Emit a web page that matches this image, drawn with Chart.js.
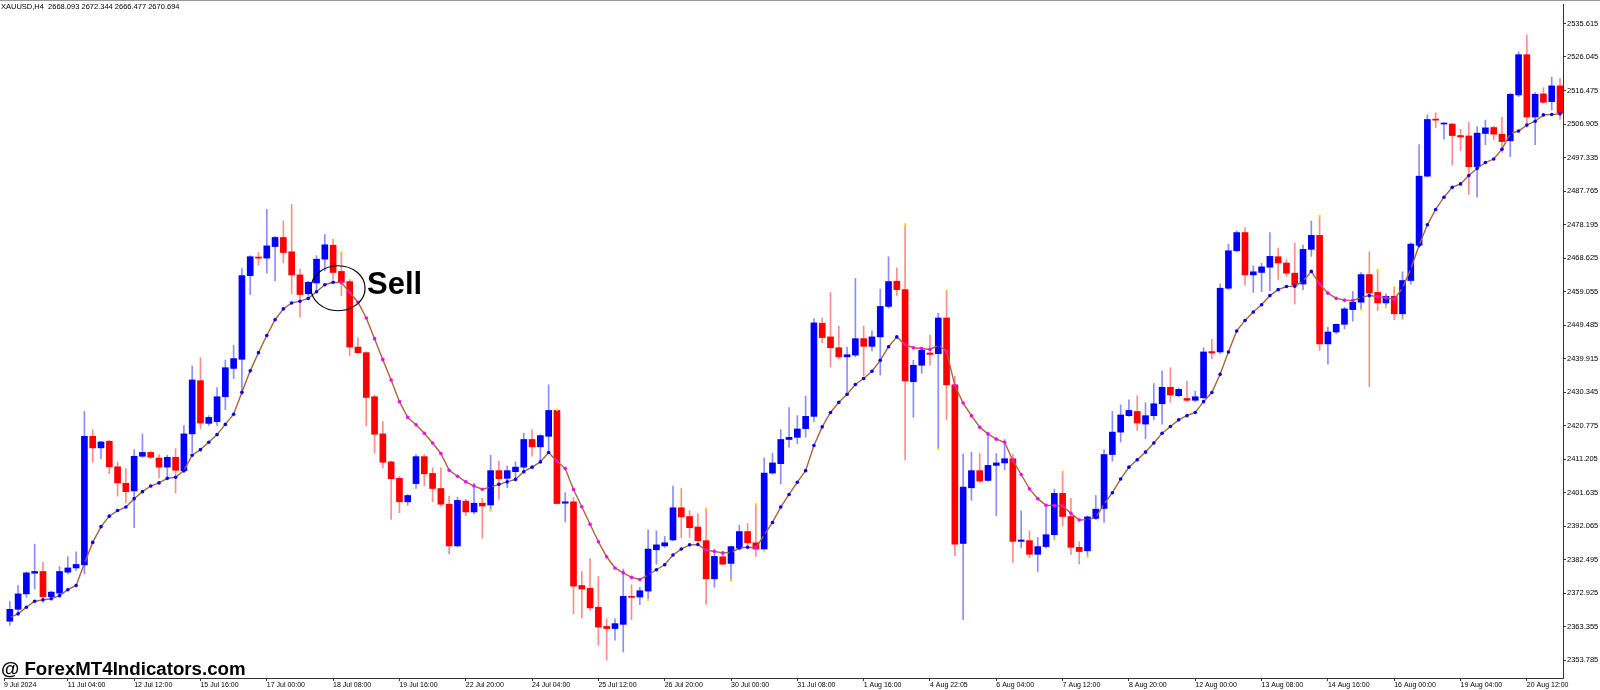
<!DOCTYPE html>
<html><head><meta charset="utf-8">
<script src="https://cdn.jsdelivr.net/npm/chart.js@4.4.1/dist/chart.umd.min.js"></script>
<style>html,body{margin:0;padding:0;background:#fff;overflow:hidden}#c{display:block}</style>
</head><body>
<canvas id="c" width="1600" height="690"></canvas>
<script>
const opens=[2364.9,2368.3,2372.7,2378.6,2379.1,2371.9,2372.9,2378.9,2380.1,2381.0,
2417.7,2414.4,2416.3,2409.0,2404.3,2402.1,2412.0,2413.1,2411.5,2408.9,
2411.7,2407.9,2418.4,2433.6,2421.4,2421.9,2429.0,2437.1,2439.7,2463.6,
2468.9,2468.6,2471.9,2474.5,2470.4,2463.8,2458.4,2461.5,2468.3,2472.3,
2464.8,2461.9,2443.2,2441.6,2429.0,2418.4,2410.4,2405.7,2399.0,2404.2,
2411.9,2407.1,2402.8,2398.3,2386.4,2399.2,2396.1,2398.6,2398.1,2407.9,
2405.7,2407.6,2408.9,2416.8,2414.7,2417.7,2425.1,2398.6,2399.0,2375.1,
2374.3,2368.9,2363.4,2362.8,2364.0,2372.0,2371.8,2373.5,2385.3,2386.4,
2388.1,2397.3,2394.8,2391.8,2387.9,2377.0,2383.3,2381.4,2385.8,2390.5,
2387.3,2385.5,2407.2,2409.9,2416.8,2417.4,2419.9,2423.4,2450.0,2446.1,
2443.0,2440.4,2440.9,2445.6,2443.4,2446.1,2454.8,2462.0,2459.6,2433.3,
2438.0,2441.5,2441.3,2451.5,2432.4,2387.1,2403.0,2407.9,2405.1,2409.4,
2410.1,2411.3,2387.7,2387.9,2384.0,2386.2,2389.6,2401.4,2394.8,2386.0,
2385.0,2394.3,2397.1,2412.5,2418.9,2423.6,2424.8,2421.2,2423.6,2427.0,
2431.7,2429.3,2428.5,2428.0,2428.7,2441.9,2441.8,2460.0,2470.7,2475.9,
2463.8,2464.5,2466.0,2469.0,2467.2,2464.3,2461.2,2471.1,2475.1,2444.1,
2447.5,2449.7,2453.9,2456.0,2463.9,2458.8,2455.8,2457.7,2452.7,2462.2,
2472.3,2492.0,2508.3,2506.9,2506.9,2503.6,2503.5,2494.7,2504.2,2505.9,
2504.0,2502.1,2515.2,2526.7,2508.9,2515.5,2513.3,2517.8];
const highs=[2370.5,2375.1,2379.0,2386.9,2381.7,2373.5,2380.5,2383.3,2384.7,2424.8,
2419.6,2416.3,2416.5,2410.4,2408.5,2413.9,2418.4,2413.4,2412.5,2412.3,
2414.2,2420.8,2437.8,2440.2,2423.6,2431.6,2439.5,2443.7,2465.6,2469.3,
2470.2,2482.5,2474.8,2479.2,2483.9,2465.5,2462.0,2469.3,2475.4,2474.0,
2470.2,2462.5,2445.9,2441.8,2429.5,2421.9,2410.6,2406.3,2401.1,2412.5,
2412.5,2408.7,2408.7,2400.6,2400.3,2399.7,2404.3,2400.0,2412.3,2410.6,
2409.2,2410.4,2418.6,2419.6,2418.2,2432.4,2425.3,2401.6,2400.2,2379.1,
2382.8,2377.7,2365.6,2365.6,2379.8,2375.3,2374.6,2391.0,2390.7,2389.1,
2403.5,2402.8,2396.5,2395.6,2397.1,2385.5,2384.5,2386.4,2392.3,2392.8,
2398.3,2411.5,2412.9,2419.6,2425.9,2423.6,2429.2,2451.3,2451.5,2458.8,
2449.2,2443.2,2462.8,2449.2,2447.8,2459.8,2469.0,2465.8,2478.2,2439.4,
2443.2,2446.7,2452.9,2459.3,2434.9,2412.6,2413.2,2412.8,2418.3,2412.8,
2416.8,2412.6,2396.4,2390.7,2388.8,2397.8,2402.6,2407.6,2400.0,2387.6,
2395.0,2400.8,2413.9,2424.8,2426.7,2428.1,2429.3,2427.3,2432.8,2436.3,
2437.3,2431.5,2433.5,2430.6,2443.0,2445.4,2461.2,2472.6,2476.4,2477.3,
2466.4,2467.1,2475.9,2471.5,2468.2,2472.9,2472.3,2479.2,2480.6,2448.9,
2449.8,2454.6,2459.1,2464.5,2470.4,2465.1,2458.4,2460.3,2464.7,2473.0,
2501.0,2509.5,2510.1,2507.3,2507.1,2505.4,2507.4,2506.2,2508.0,2506.2,
2508.8,2515.6,2527.5,2532.3,2515.9,2517.3,2520.3,2519.9];
const lows=[2363.7,2367.1,2371.7,2374.1,2370.3,2371.4,2371.8,2378.4,2379.3,2378.4,
2410.3,2411.3,2407.0,2400.6,2398.7,2391.6,2411.7,2411.4,2405.8,2405.6,
2401.5,2407.3,2413.1,2419.8,2420.8,2420.8,2425.3,2434.2,2429.5,2458.2,
2466.6,2464.3,2462.1,2467.2,2458.4,2451.7,2457.9,2458.8,2465.0,2462.5,
2457.9,2440.7,2441.3,2420.7,2412.9,2408.7,2394.0,2395.9,2398.0,2402.8,
2403.5,2399.0,2397.8,2384.1,2386.1,2395.0,2395.6,2388.6,2396.5,2399.7,
2403.0,2405.3,2407.3,2412.0,2411.0,2412.9,2398.4,2393.3,2367.0,2365.8,
2368.0,2358.0,2353.8,2359.5,2356.1,2365.3,2369.6,2371.0,2381.2,2386.0,
2387.9,2388.8,2388.8,2386.9,2369.7,2374.6,2381.0,2376.5,2385.5,2386.0,
2383.4,2385.0,2406.9,2404.1,2414.6,2415.6,2417.5,2421.9,2444.4,2437.5,
2439.9,2430.4,2440.4,2435.0,2442.1,2435.2,2454.3,2457.9,2411.0,2423.1,
2435.7,2438.0,2414.1,2422.4,2383.6,2365.3,2399.4,2404.6,2404.9,2395.0,
2408.2,2381.7,2385.8,2383.0,2379.1,2385.8,2388.3,2392.1,2383.9,2381.2,
2383.3,2394.0,2393.1,2410.6,2416.1,2423.4,2419.4,2417.0,2422.4,2421.2,
2427.4,2429.0,2427.6,2427.6,2428.5,2439.9,2441.3,2459.6,2470.4,2460.9,
2458.8,2459.0,2459.3,2462.5,2463.4,2455.5,2459.6,2469.1,2442.2,2438.3,
2447.0,2448.4,2450.6,2453.9,2431.9,2453.6,2454.6,2451.0,2451.3,2461.2,
2471.6,2491.8,2505.8,2502.6,2495.1,2499.3,2486.8,2486.0,2501.0,2502.4,
2498.8,2497.6,2514.7,2506.0,2501.0,2512.8,2510.9,2508.3];
const closes=[2368.3,2372.7,2378.7,2379.1,2371.9,2373.2,2379.1,2380.1,2381.1,2417.7,
2414.4,2416.1,2409.0,2404.4,2401.9,2412.0,2413.1,2411.7,2408.9,2411.7,
2408.0,2418.4,2433.8,2421.5,2423.1,2429.0,2437.3,2439.9,2463.6,2469.0,
2468.6,2472.1,2474.5,2470.2,2463.8,2458.2,2461.7,2468.3,2472.4,2464.5,
2461.7,2443.2,2441.6,2428.8,2418.3,2410.3,2405.6,2399.0,2400.8,2411.9,
2407.0,2402.8,2398.3,2386.4,2399.4,2396.1,2398.6,2397.8,2407.9,2405.6,
2407.9,2408.9,2416.8,2414.7,2417.9,2425.1,2398.5,2399.0,2374.9,2374.1,
2368.7,2363.2,2362.8,2364.2,2372.0,2371.7,2373.6,2385.5,2386.7,2387.3,
2397.3,2394.7,2391.6,2387.9,2377.0,2383.4,2381.2,2386.2,2390.5,2387.3,
2385.5,2407.2,2410.1,2416.8,2417.4,2419.8,2423.4,2450.1,2445.9,2443.0,
2440.4,2441.0,2445.6,2443.4,2446.1,2454.8,2461.9,2459.6,2433.5,2438.0,
2442.3,2441.1,2451.5,2432.4,2386.9,2403.2,2407.9,2404.9,2409.4,2410.1,
2411.3,2387.7,2388.1,2384.0,2386.2,2389.6,2401.4,2394.8,2386.0,2384.8,
2394.7,2396.9,2412.5,2418.9,2423.8,2425.1,2421.5,2423.6,2427.0,2431.7,
2429.5,2431.1,2428.0,2429.0,2441.8,2441.5,2460.0,2470.7,2475.9,2463.8,
2464.7,2466.1,2469.1,2467.2,2464.3,2460.9,2471.1,2475.1,2444.1,2447.5,
2449.7,2454.1,2456.0,2463.9,2458.6,2455.8,2457.7,2452.7,2462.2,2472.6,
2492.0,2508.2,2508.0,2507.1,2503.6,2503.2,2494.7,2504.3,2505.8,2504.0,
2501.9,2515.4,2526.7,2508.9,2515.4,2513.1,2517.8,2510.0];
const maValues=[2365.9,2367.0,2368.9,2370.6,2371.0,2371.3,2372.2,2373.9,2375.1,2381.4,
2387.4,2391.9,2394.9,2396.5,2397.5,2399.9,2401.9,2403.5,2404.4,2405.7,
2406.0,2407.9,2412.3,2413.9,2416.0,2418.2,2421.1,2424.0,2430.3,2436.4,
2441.6,2446.5,2451.0,2454.1,2455.8,2456.3,2457.1,2459.0,2461.0,2461.7,
2461.6,2458.8,2456.0,2451.5,2445.6,2439.6,2433.8,2427.6,2423.1,2421.0,
2418.6,2415.8,2412.8,2408.0,2406.3,2404.7,2403.5,2402.6,2403.2,2404.0,
2404.7,2405.4,2407.6,2408.9,2410.4,2413.1,2410.6,2408.5,2402.5,2397.6,
2392.6,2387.6,2383.3,2380.1,2378.7,2377.4,2376.8,2378.1,2379.6,2381.0,
2383.8,2385.5,2386.7,2386.8,2385.2,2384.8,2384.4,2384.5,2385.8,2386.0,
2385.9,2389.5,2393.1,2397.5,2401.1,2404.6,2407.9,2415.1,2420.4,2424.5,
2427.4,2429.7,2432.5,2434.2,2436.3,2439.4,2443.3,2446.1,2443.9,2443.0,
2442.8,2442.5,2443.7,2442.0,2432.2,2427.2,2423.6,2420.3,2418.4,2416.9,
2416.0,2410.8,2406.8,2402.7,2399.9,2398.0,2397.9,2397.8,2395.7,2393.8,
2393.9,2394.5,2398.3,2401.6,2405.5,2408.9,2411.0,2413.2,2415.8,2418.6,
2420.5,2422.4,2423.6,2424.5,2427.6,2430.2,2435.4,2441.8,2447.8,2450.8,
2453.2,2455.3,2457.9,2459.6,2460.5,2460.6,2462.0,2464.8,2461.2,2458.6,
2457.1,2456.6,2456.5,2457.3,2457.9,2457.6,2457.3,2456.8,2460.1,2465.5,
2472.3,2478.1,2482.5,2486.0,2488.8,2489.8,2492.2,2494.2,2495.9,2496.9,
2499.7,2504.2,2504.9,2506.6,2507.7,2509.5,2509.6,2509.8];
const markHighIdx=[40,66,84,90,108,113,127,158,165,167];
const markLowIdx=[58,77,87,91,112,126,130,163,166,168];
const priceTicks=[2353.785,2363.355,2372.925,2382.495,2392.065,2401.635,2411.205,2420.775,2430.345,2439.915,
2449.485,2459.055,2468.625,2478.195,2487.765,2497.335,2506.905,2516.475,2526.045,2535.615];
const timeTickIndex=[-0.7,7,15,23,31,39,47,55,63,71,79,87,95,103,111,119,127,135,143,151,159,167,175,183];
const timeTickLabels=["9 Jul 2024","11 Jul 04:00","12 Jul 12:00","15 Jul 16:00","17 Jul 00:00","18 Jul 08:00",
"19 Jul 16:00","22 Jul 20:00","24 Jul 04:00","25 Jul 12:00","26 Jul 20:00","30 Jul 00:00","31 Jul 08:00",
"1 Aug 16:00","4 Aug 22:05","6 Aug 04:00","7 Aug 12:00","8 Aug 20:00","12 Aug 00:00","13 Aug 08:00",
"14 Aug 16:00","16 Aug 00:00","19 Aug 04:00","20 Aug 12:00"];
const headerText="XAUUSD,H4  2668.093 2672.344 2666.477 2670.694";
const watermarkText="@ ForexMT4Indicators.com";
const signalText="Sell";
const signalAt={x:39.6,y:2460.0};

const FONT='"Liberation Sans", Arial, sans-serif';
const BULL='#0000FF', BEAR='#FF0000';
const idx=opens.map((_,i)=>i);
const isBull=idx.map(i=>closes[i]>=opens[i]);
const bodyData=idx.map(i=>({x:i,y:[opens[i],closes[i]]}));
const wickData=idx.map(i=>({x:i,y:[lows[i],highs[i]]}));
const maData=idx.map(i=>({x:i,y:maValues[i]}));
const maColors=idx.map(i=>(i>0&&maValues[i]<maValues[i-1])?'#FF00FF':'#0000FF');
const markData=markHighIdx.map(i=>({x:i,y:highs[i]})).concat(markLowIdx.map(i=>({x:i,y:lows[i]})));

const overlay={
  id:'overlay',
  afterDraw(chart){
    const ctx=chart.ctx, xs=chart.scales.x, ys=chart.scales.y;
    ctx.save();
    ctx.strokeStyle='#9a9a9a'; ctx.lineWidth=1;
    ctx.beginPath(); ctx.moveTo(0,0.5); ctx.lineTo(1600,0.5); ctx.stroke();
    ctx.fillStyle='#000'; ctx.textBaseline='alphabetic'; ctx.textAlign='left';
    ctx.font='7.5px '+FONT;
    ctx.fillText(headerText,1,9);
    const cx=xs.getPixelForValue(signalAt.x), cy=ys.getPixelForValue(signalAt.y);
    ctx.beginPath(); ctx.ellipse(cx,cy,27,22.5,0,0,Math.PI*2);
    ctx.strokeStyle='#000'; ctx.lineWidth=1.2; ctx.stroke();
    ctx.font='bold 31px '+FONT;
    ctx.fillText(signalText,cx+29,cy+6);
    ctx.font='bold 18.7px '+FONT;
    ctx.fillText(watermarkText,1,675);
    ctx.restore();
  }
};

new Chart(document.getElementById('c'),{
  type:'bar',
  data:{datasets:[
    {type:'line',label:'marks',data:markData,showLine:false,pointRadius:1.3,pointBackgroundColor:'#F2E200',pointBorderWidth:0,order:0},
    {type:'line',label:'MA',data:maData,borderColor:'#A8643A',borderWidth:1.4,tension:0,pointRadius:1.8,pointBorderWidth:0,pointBackgroundColor:maColors,order:1},
    {type:'bar',label:'body',data:bodyData,backgroundColor:isBull.map(b=>b?BULL:BEAR),barThickness:6,minBarLength:1,grouped:false,borderWidth:0,order:2},
    {type:'bar',label:'wick',data:wickData,backgroundColor:isBull.map(b=>b?'rgba(0,0,255,0.45)':'rgba(255,0,0,0.45)'),barThickness:1,grouped:false,borderWidth:0,order:3}
  ]},
  options:{
    responsive:false,animation:false,events:[],
    layout:{padding:0},
    plugins:{legend:{display:false},tooltip:{enabled:false}},
    scales:{
      x:{type:'linear',position:'bottom',min:-0.7,max:187.36,offset:false,
        grid:{drawOnChartArea:false,offset:false,tickLength:3,color:'#333'},
        border:{display:true,color:'#333'},
        ticks:{align:'start',autoSkip:false,maxRotation:0,minRotation:0,padding:0,color:'#000',font:{family:FONT,size:7},
          callback:(v,i)=>timeTickLabels[i]},
        afterBuildTicks:s=>{s.ticks=timeTickIndex.map(v=>({value:v}));},
        afterFit:s=>{s.height=12;s.paddingLeft=0;s.paddingRight=0;}
      },
      y:{position:'right',min:2348.674,max:2541.18,
        grid:{drawOnChartArea:false,tickLength:3,color:'#333'},
        border:{display:true,color:'#333'},
        ticks:{padding:1,color:'#000',font:{family:FONT,size:7.5},callback:v=>Number(v).toFixed(3)},
        afterBuildTicks:s=>{s.ticks=priceTicks.map(v=>({value:v}));},
        afterFit:s=>{s.width=37;s.paddingTop=0;s.paddingBottom=0;}
      }
    }
  },
  plugins:[overlay]
});
</script>
</body></html>
